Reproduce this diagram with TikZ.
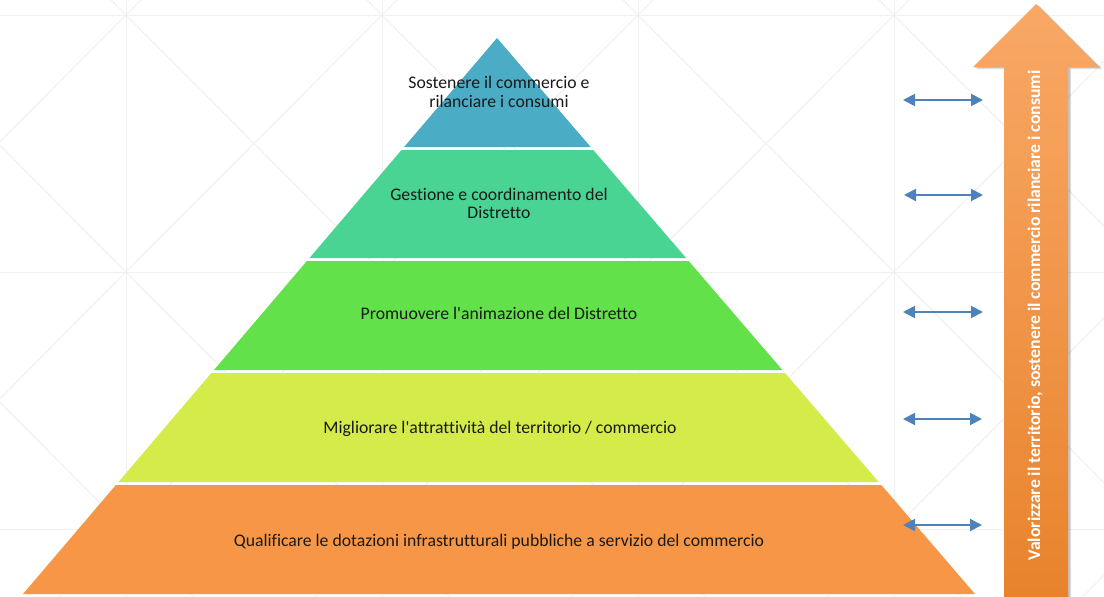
\documentclass[tikz,border=0pt]{standalone}
\usepackage{fontspec}
\setmainfont{Carlito}[Ligatures={NoCommon,NoRequired,NoContextual}]
\usetikzlibrary{arrows.meta}
\definecolor{gridc}{HTML}{F0F0F0}
\definecolor{c1}{HTML}{4BACC6}
\definecolor{c2}{HTML}{4AD494}
\definecolor{c3}{HTML}{62E14A}
\definecolor{c4}{HTML}{D4EB4A}
\definecolor{c5}{HTML}{F79646}
\definecolor{arrblue}{HTML}{4F81BD}
\definecolor{txt}{HTML}{1A1A1A}
\definecolor{arrtop}{RGB}{249,168,102}
\definecolor{arrbot}{RGB}{232,131,44}
\tikzset{
  gridline/.style={draw=gridc, line width=1pt},
  lbl/.style={anchor=base, inner sep=0pt, text=txt, font=\fontsize{17.7}{18.5}\selectfont},
  vlbl/.style={anchor=base, inner sep=0pt, text=white, rotate=90, font=\fontsize{17.7}{18.5}\selectfont\bfseries},
  dbl/.style={draw=arrblue, line width=2pt, {Triangle[length=12pt,width=12pt]}-{Triangle[length=12pt,width=12pt]}},
}
\begin{document}
\begin{tikzpicture}[x=1pt,y=-1pt]
\useasboundingbox (0,0) rectangle (1104,597);
\fill[white] (0,0) rectangle (1104,597);
% background grid
\begin{scope}
\clip (0,0) rectangle (1104,597);
\foreach \x in {126,382,638,894} \draw[gridline] (\x,0) -- (\x,597);
\foreach \y in {15,272,529} \draw[gridline] (0,\y) -- (1104,\y);
\foreach \x in {-130,126,382,638,894}
  \foreach \y in {-242,15,272,529}
  {
    \draw[gridline] (\x,\y) -- ({\x+256},{\y+257});
    \draw[gridline] (\x,{\y+257}) -- ({\x+256},\y);
  }
\end{scope}
% pyramid layers
\fill[c1] (497,38) -- (590.7,147) -- (404.1,147) -- cycle;
\fill[c2] (401.5,150) -- (593.3,150) -- (686.1,258) -- (309.5,258) -- cycle;
\fill[c3] (306.9,261) -- (688.7,261) -- (782.4,370) -- (214.0,370) -- cycle;
\fill[c4] (211.4,373) -- (785.0,373) -- (878.7,482) -- (118.5,482) -- cycle;
\fill[c5] (115.9,485) -- (881.3,485) -- (975,594) -- (23,594) -- cycle;
% labels
\node[lbl] (t1a) at (499,88) {Sostenere il commercio e};
\node[lbl] (t1b) at (499,107) {rilanciare i consumi};
\node[lbl] (t2a) at (499,200) {Gestione e coordinamento del};
\node[lbl] (t2b) at (499,218) {Distretto};
\node[lbl] (t3) at (499,319) {Promuovere l\textquotesingle animazione del Distretto};
\node[lbl] (t4) at (500,433) {Migliorare l\textquotesingle attrattività del territorio / commercio};
\node[lbl] (t5) at (499,546.5) {Qualificare le dotazioni infrastrutturali pubbliche a servizio del commercio};
% big arrow shadow
\fill[black, opacity=0.12] (1039,6) -- (1102,69) -- (1071,69) -- (1071,600) -- (1007,600) -- (1007,69) -- (976,69) -- cycle;
\fill[black, opacity=0.12] (1038,5) -- (1101,68) -- (1070,68) -- (1070,600) -- (1006,600) -- (1006,68) -- (975,68) -- cycle;
% big arrow
\shade[top color=arrtop, bottom color=arrbot] (1036,4) -- (1099,67) -- (1068,67) -- (1068,597) -- (1004,597) -- (1004,67) -- (973,67) -- cycle;
\node[vlbl] (vt) at (1040,315.5) {Valorizzare il territorio, sostenere il commercio rilanciare i consumi};
% double arrows
\coordinate (a1l) at (903,100); \coordinate (a1r) at (983,100);
\coordinate (a2l) at (904,195); \coordinate (a2r) at (983,195);
\coordinate (a3l) at (903,312); \coordinate (a3r) at (983,312);
\coordinate (a4l) at (903,419); \coordinate (a4r) at (982,419);
\coordinate (a5l) at (903,525); \coordinate (a5r) at (982,525);
\draw[dbl] (a1l) -- (a1r);
\draw[dbl] (a2l) -- (a2r);
\draw[dbl] (a3l) -- (a3r);
\draw[dbl] (a4l) -- (a4r);
\draw[dbl] (a5l) -- (a5r);
\end{tikzpicture}
\end{document}
